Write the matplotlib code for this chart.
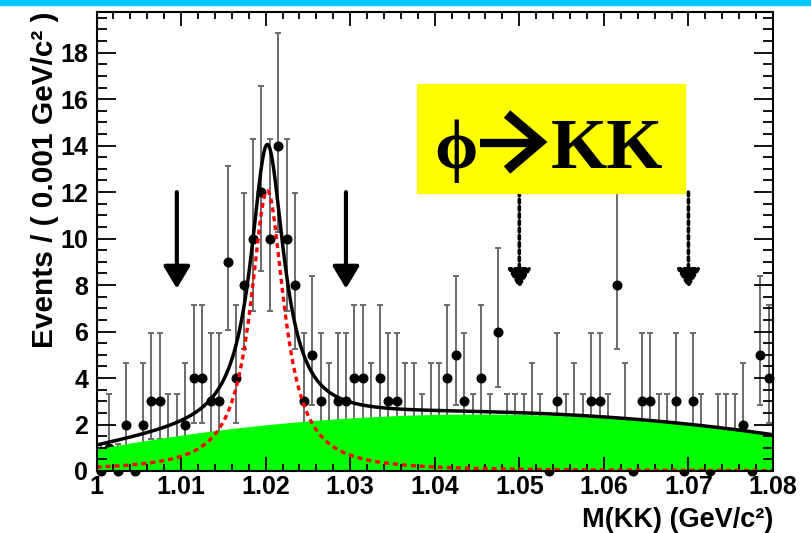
import math
import numpy as np
import matplotlib
matplotlib.use("Agg")
import matplotlib.pyplot as plt
from matplotlib.patches import Rectangle
from matplotlib.lines import Line2D
from matplotlib.ticker import MultipleLocator

plt.rcParams['font.family'] = ['Liberation Sans', 'DejaVu Sans']
plt.rcParams['font.weight'] = 'bold'
plt.rcParams['axes.labelweight'] = 'bold'

# M(KK) histogram, 1 MeV bins from 1.000 to 1.080 GeV
bin_lo = 1.000
bin_w = 0.001
counts = [0, 1, 0, 2, 0, 2, 3, 3, 1, 1,
          2, 4, 4, 3, 3, 9, 4, 8, 10, 12,
          10, 14, 10, 8, 3, 5, 3, 2, 3, 3,
          4, 4, 2, 4, 3, 3, 2, 2, 1, 2,
          2, 4, 5, 3, 1, 4, 1, 6, 1, 1,
          1, 2, 1, 0, 3, 1, 2, 1, 3, 3,
          1, 8, 2, 0, 3, 3, 1, 1, 3, 0,
          3, 1, 0, 1, 1, 1, 2, 0, 5, 4]

# fit result: Breit-Wigner signal + parabolic background
sig_mass = 1.0202
sig_width = 0.0048
sig_peak = 12.06
bkg_top_x = 1.045
bkg_top = 2.45
bkg_curv = -741.0

# mass window arrows
win_arrows = [1.0095, 1.0295]
side_arrows = [1.05, 1.07]

W, H = 811, 533


def pois_cdf(k, mu):
    return sum(math.exp(-mu) * mu ** i / math.factorial(i) for i in range(k + 1))


def bisect(f, lo, hi):
    for _ in range(80):
        mid = 0.5 * (lo + hi)
        if f(lo) * f(mid) <= 0:
            hi = mid
        else:
            lo = mid
    return 0.5 * (lo + hi)


def pois_interval(n, cl=0.6827):
    if n == 0:
        return 0.0, -math.log(1 - cl)
    a = (1 - cl) / 2
    lo = bisect(lambda m: (1 - pois_cdf(n - 1, m)) - a, 1e-9, 60)
    hi = bisect(lambda m: pois_cdf(n, m) - a, 1e-9, 60)
    return lo, hi


def fx(px):
    return px / W


def fy(py):
    return 1 - py / H


counts = np.array(counts)
centers = bin_lo + bin_w * (np.arange(len(counts)) + 0.5)
ints = np.array([pois_interval(int(n)) for n in counts])
err_lo = counts - ints[:, 0]
err_hi = ints[:, 1] - counts

xs = np.linspace(1.0, 1.08, 800)
sig = sig_peak / (1 + (2 * (xs - sig_mass) / sig_width) ** 2)
bkg = bkg_top + bkg_curv * (xs - bkg_top_x) ** 2
tot = sig + bkg

fig = plt.figure(figsize=(W / 100, H / 100), dpi=100)
ax = fig.add_axes([fx(96.5), fy(471), 676.5 / W, 459 / H])

ax.errorbar(centers, counts, yerr=[err_lo, err_hi], fmt='none',
            ecolor='0.42', elinewidth=1.4, capsize=2, capthick=1.4, zorder=1)
ax.plot(centers, counts, 'o', color='k', ms=6.2, clip_on=False, zorder=1.1)
ax.fill_between(xs, 0, bkg, color='#00ff00', lw=0, zorder=1.2)
ax.plot(xs, tot, color='k', lw=2.5, zorder=1.6)
ax.plot(xs, sig, color='#ff0000', lw=2.4, ls=(0, (1.5, 1.2)), zorder=1.7)

for x in win_arrows:
    ax.annotate('', xy=(x, 7.85), xytext=(x, 12.0),
                arrowprops=dict(arrowstyle='-|>,head_length=0.45,head_width=0.27',
                                lw=3.0, color='k', mutation_scale=30,
                                shrinkA=0, shrinkB=0), zorder=2)
for x in side_arrows:
    ax.annotate('', xy=(x, 7.85), xytext=(x, 12.0),
                arrowprops=dict(arrowstyle='-|>,head_length=0.45,head_width=0.27',
                                lw=2.6, ls=(0, (1, 1)), color='k', mutation_scale=26,
                                shrinkA=0, shrinkB=0), zorder=2)

ax.set_xlim(1.0, 1.08)
ax.set_ylim(0, 19.75)
ax.xaxis.set_major_locator(MultipleLocator(0.01))
ax.xaxis.set_minor_locator(MultipleLocator(0.002))
ax.yaxis.set_major_locator(MultipleLocator(2))
ax.yaxis.set_minor_locator(MultipleLocator(0.5))
ax.xaxis.set_major_formatter(matplotlib.ticker.FuncFormatter(
    lambda v, p: '1' if abs(v - 1) < 1e-9 else f'{v:.2f}'))
ax.tick_params(which='both', direction='in', top=True, right=True,
               width=1.3, labelsize=18)
ax.tick_params(axis='x', which='major', length=10, pad=3)
ax.tick_params(axis='x', which='minor', length=5)
ax.tick_params(axis='y', which='major', length=14, pad=6)
ax.tick_params(axis='y', which='minor', length=7)
for s in ax.spines.values():
    s.set_linewidth(1.5)

ax.set_ylabel('Events / ( 0.001 GeV/c\u00b2 )', fontsize=21.5, loc='top')
ax.yaxis.set_label_coords(-0.055, 1.0)
ax.set_xlabel('M(KK) (GeV/c\u00b2)', fontsize=19.5, loc='right', va='baseline')
ax.xaxis.set_label_coords(1.0, -0.122)

# yellow decay label
fig.patches.append(Rectangle((fx(417), fy(193)), 268 / W, 109 / H,
                             transform=fig.transFigure, color='#ffff00', zorder=3))
fig.text(fx(456), fy(168), '\u03d5', family=['Liberation Serif', 'DejaVu Serif'],
         fontweight='bold', fontsize=50, ha='center', va='baseline', zorder=4)
fig.text(fx(607), fy(168.5), 'KK', family=['Liberation Serif'],
         fontweight='bold', fontsize=52, ha='center', va='baseline', zorder=4)
# heavy arrow between phi and KK
fig.add_artist(Line2D([fx(480), fx(533)], [fy(142.5), fy(142.5)], lw=6.0,
                      color='k', solid_capstyle='butt', zorder=4))
fig.add_artist(Line2D([fx(507), fx(540), fx(507)], [fy(114), fy(142), fy(170)],
                      lw=7.0, color='k', solid_capstyle='butt',
                      solid_joinstyle='miter', zorder=4))

# cyan strip along the top edge
fig.patches.append(Rectangle((0, fy(5)), 1, 5 / H,
                             transform=fig.transFigure, color='#00c8ff', zorder=5))

fig.savefig('out.png', dpi=100)
